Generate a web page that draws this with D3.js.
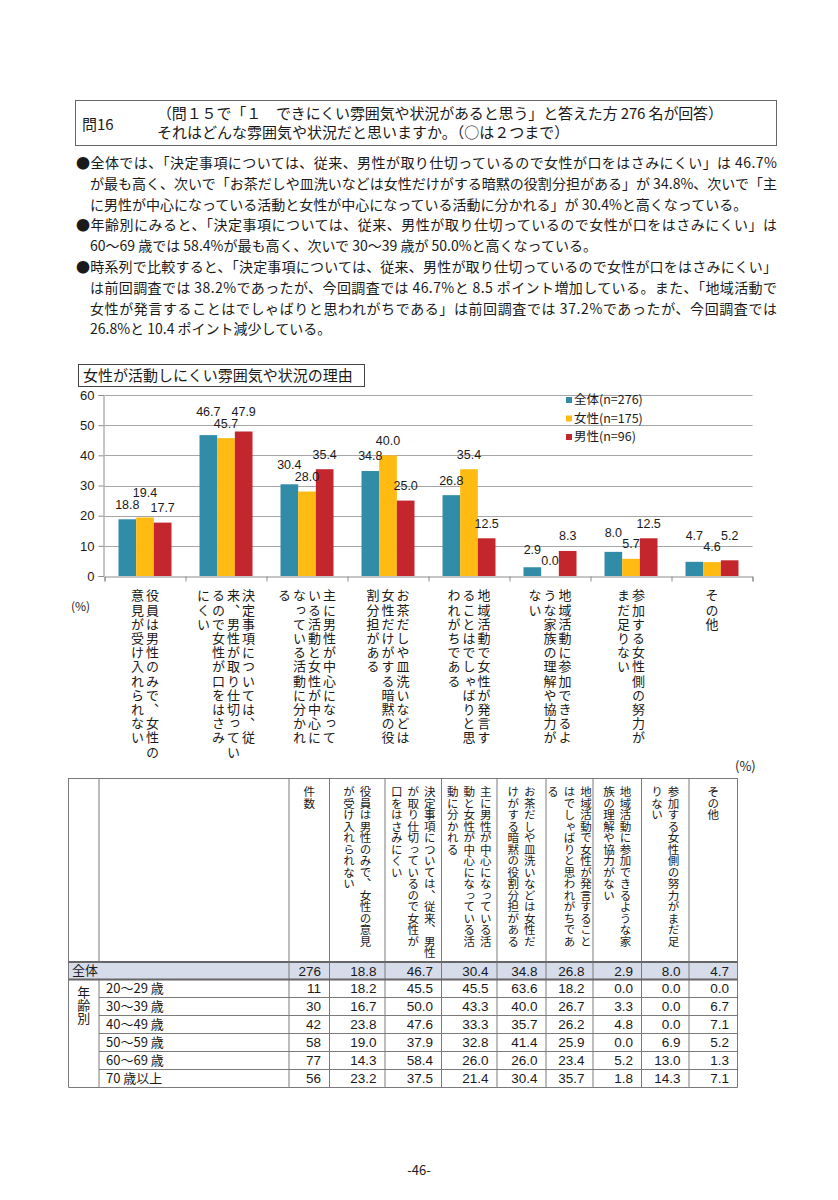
<!DOCTYPE html>
<html>
<head>
<meta charset="utf-8">
<script src="https://cdn.jsdelivr.net/npm/d3@7"></script>
<style>
  body { margin: 0; background: #fff; }
  svg { display: block; }
</style>
</head>
<body>
<div id="page"></div>
<script>
// ---- data ----
const questionNo = "問16";
const questionLines = [
  "（問１５で「１　できにくい雰囲気や状況があると思う」と答えた方 276 名が回答）",
  "それはどんな雰囲気や状況だと思いますか。（○は２つまで）",
];
const summaryLines = [
  { t: "●全体では、「決定事項については、従来、男性が取り仕切っているので女性が口をはさみにくい」は 46.7%", indent: false, full: true },
  { t: "が最も高く、次いで「お茶だしや皿洗いなどは女性だけがする暗黙の役割分担がある」が 34.8%、次いで「主", indent: true, full: true },
  { t: "に男性が中心になっている活動と女性が中心になっている活動に分かれる」が 30.4%と高くなっている。", indent: true, full: false },
  { t: "●年齢別にみると、「決定事項については、従来、男性が取り仕切っているので女性が口をはさみにくい」は", indent: false, full: true },
  { t: "60～69 歳では 58.4%が最も高く、次いで 30～39 歳が 50.0%と高くなっている。", indent: true, full: false },
  { t: "●時系列で比較すると、「決定事項については、従来、男性が取り仕切っているので女性が口をはさみにくい」", indent: false, full: true },
  { t: "は前回調査では 38.2%であったが、今回調査では 46.7%と 8.5 ポイント増加している。また、「地域活動で", indent: true, full: true },
  { t: "女性が発言することはでしゃばりと思われがちである」は前回調査では 37.2%であったが、今回調査では", indent: true, full: true },
  { t: "26.8%と 10.4 ポイント減少している。", indent: true, full: false },
];
const chartTitle = "女性が活動しにくい雰囲気や状況の理由";

const seriesNames = ["全体(n=276)", "女性(n=175)", "男性(n=96)"];
const seriesColors = ["#318ca8", "#ffbb12", "#c4262e"];
const totalValues = [18.8, 46.7, 30.4, 34.8, 26.8, 2.9, 8.0, 4.7];
const femaleValues = [19.4, 45.7, 28.0, 40.0, 35.4, 0.0, 5.7, 4.6];
const maleValues = [17.7, 47.9, 35.4, 25.0, 12.5, 8.3, 12.5, 5.2];
const yTicks = [0, 10, 20, 30, 40, 50, 60];
// each category label is written vertically, one string per column (right to left)
const categoryLabels = [
  ["役員は男性のみで、女性の", "意見が受け入れられない"],
  ["決定事項については、従", "来、男性が取り仕切ってい", "るので女性が口をはさみ", "にくい"],
  ["主に男性が中心になって", "いる活動と女性が中心に", "なっている活動に分かれ", "る"],
  ["お茶だしや皿洗いなどは", "女性だけがする暗黙の役", "割分担がある"],
  ["地域活動で女性が発言す", "ることはでしゃばりと思", "われがちである"],
  ["地域活動に参加できるよ", "うな家族の理解や協力が", "ない"],
  ["参加する女性側の努力が", "まだ足りない"],
  ["その他"],
];

const tableHeaders = [
  ["件数"],
  ["役員は男性のみで、女性の意見", "が受け入れられない"],
  ["決定事項については、従来、男性", "が取り仕切っているので女性が", "口をはさみにくい"],
  ["主に男性が中心になっている活", "動と女性が中心になっている活", "動に分かれる"],
  ["お茶だしや皿洗いなどは女性だ", "けがする暗黙の役割分担がある"],
  ["地域活動で女性が発言すること", "はでしゃばりと思われがちであ", "る"],
  ["地域活動に参加できるような家", "族の理解や協力がない"],
  ["参加する女性側の努力がまだ足", "りない"],
  ["その他"],
];
const groupLabel = "年齢別";
const rowLabels = ["全体", "20～29 歳", "30～39 歳", "40～49 歳", "50～59 歳", "60～69 歳", "70 歳以上"];
const rowCounts = [276, 11, 30, 42, 58, 77, 56];
const rowValues = [
  [18.8, 46.7, 30.4, 34.8, 26.8, 2.9, 8.0, 4.7],
  [18.2, 45.5, 45.5, 63.6, 18.2, 0.0, 0.0, 0.0],
  [16.7, 50.0, 43.3, 40.0, 26.7, 3.3, 0.0, 6.7],
  [23.8, 47.6, 33.3, 35.7, 26.2, 4.8, 0.0, 7.1],
  [19.0, 37.9, 32.8, 41.4, 25.9, 0.0, 6.9, 5.2],
  [14.3, 58.4, 26.0, 26.0, 23.4, 5.2, 13.0, 1.3],
  [23.2, 37.5, 21.4, 30.4, 35.7, 1.8, 14.3, 7.1],
];
const pageNo = "-46-";

// ---- setup ----
const JP = "'Noto Sans CJK JP', 'Noto Sans CJK SC', sans-serif";
const NUM = "'Liberation Sans Narrow', 'Liberation Sans', Arial, sans-serif";
const TXT = "#1a1a1a";
const W = 838, H = 1200;
const fmt = d3.format(".1f");

const svg = d3.select("#page").append("svg")
  .attr("width", W).attr("height", H)
  .attr("viewBox", [0, 0, W, H]);
svg.append("rect").attr("width", W).attr("height", H).attr("fill", "#fff");

// ---- question box ----
const head = svg.append("g").attr("font-family", JP).attr("fill", TXT);
head.append("rect")
  .attr("x", 75.5).attr("y", 100.5).attr("width", 701).attr("height", 45)
  .attr("fill", "none").attr("stroke", "#666");
head.append("text").attr("x", 82).attr("y", 130).attr("font-size", 15).text(questionNo);
head.selectAll(".q")
  .data(questionLines)
  .join("text")
  .attr("class", "q")
  .attr("x", 157)
  .attr("y", (d, i) => 119 + i * 19)
  .attr("font-size", 15)
  .text((d) => d)
  .filter((d, i) => i === 0)
  .attr("textLength", 566)
  .attr("lengthAdjust", "spacing");

// ---- summary text ----
const summary = svg.append("g").attr("font-family", JP).attr("fill", TXT).attr("font-size", 14);
summary.selectAll("text")
  .data(summaryLines)
  .join("text")
  .attr("x", (d) => (d.indent ? 90 : 76))
  .attr("y", (d, i) => 168 + i * 20.8)
  .text((d) => d.t)
  .filter((d) => d.full)
  .attr("textLength", (d) => 777 - (d.indent ? 90 : 76))
  .attr("lengthAdjust", "spacing");

// ---- chart ----
const chart = svg.append("g");
chart.append("rect")
  .attr("x", 78.5).attr("y", 364.5).attr("width", 286).attr("height", 22)
  .attr("fill", "none").attr("stroke", "#444");
chart.append("text")
  .attr("x", 83).attr("y", 381)
  .attr("font-family", JP).attr("font-size", 15).attr("fill", TXT)
  .text(chartTitle);

const plot = { left: 104.5, right: 752.5, top: 395, bottom: 576 };
const series = [totalValues, femaleValues, maleValues];
const x0 = d3.scaleBand().domain(d3.range(categoryLabels.length)).range([plot.left, plot.right]);
const x1 = d3.scaleBand().domain(d3.range(series.length)).range([14, x0.bandwidth() - 14]);
const y = d3.scaleLinear().domain([0, 60]).range([plot.bottom, plot.top]);
const xEdges = d3.scaleLinear().domain([0, categoryLabels.length]).range([plot.left, plot.right]);

// grid
chart.append("g")
  .selectAll("line")
  .data(yTicks.filter((d) => d > 0))
  .join("line")
  .attr("x1", plot.left).attr("x2", plot.right)
  .attr("y1", (d) => Math.round(y(d)) + 0.5).attr("y2", (d) => Math.round(y(d)) + 0.5)
  .attr("stroke", "#a6a6a6");

// y axis
chart.append("g")
  .attr("transform", `translate(${plot.left - 1},0)`)
  .call(d3.axisLeft(y).tickValues(yTicks).tickSize(5).tickPadding(4))
  .call((g) => g.selectAll("path, line").attr("stroke", "#8c8c8c"))
  .call((g) => g.selectAll("text").attr("font-family", NUM).attr("font-size", 13).attr("fill", TXT));

// bars
const rows = d3.range(categoryLabels.length).map((i) => ({
  i,
  items: series.map((s, k) => ({ k, v: s[i] })),
}));
const groups = chart.append("g")
  .selectAll("g")
  .data(rows)
  .join("g")
  .attr("transform", (d) => `translate(${x0(d.i)},0)`);
groups.selectAll("rect")
  .data((d) => d.items)
  .join("rect")
  .attr("x", (d) => x1(d.k))
  .attr("width", x1.bandwidth())
  .attr("y", (d) => y(d.v))
  .attr("height", (d) => y(0) - y(d.v))
  .attr("fill", (d) => seriesColors[d.k]);

// value labels, nudged apart when two neighbours would collide
const labelGap = 4, labelStep = 11.5;
groups.each(function (d) {
  const g = d3.select(this);
  const labels = g.selectAll("text")
    .data(d.items)
    .join("text")
    .attr("x", (e) => x1(e.k) + x1.bandwidth() / 2)
    .attr("text-anchor", "middle")
    .attr("dy", "0.35em")
    .attr("font-family", NUM)
    .attr("font-size", 12.5)
    .attr("fill", TXT)
    .text((e) => fmt(e.v));
  const nodes = labels.nodes();
  d.items.forEach((e, k) => {
    e.cy = y(e.v) - 15;
    e.w = nodes[k].getComputedTextLength();
    e.cx = x1(e.k) + x1.bandwidth() / 2;
  });
  for (let k = 0; k < d.items.length - 1; k++) {
    const a = d.items[k], b = d.items[k + 1];
    const overlapX = a.w / 2 + b.w / 2 + labelGap > b.cx - a.cx;
    if (overlapX && Math.abs(a.cy - b.cy) < labelStep) {
      if (a.cy < b.cy) a.cy = b.cy - labelStep;
      else b.cy = a.cy - labelStep;
    }
  }
  labels.attr("y", (e) => e.cy);
});

// x axis
chart.append("g")
  .attr("transform", `translate(0,${plot.bottom + 0.5})`)
  .call(d3.axisBottom(xEdges).ticks(categoryLabels.length).tickSize(5).tickFormat(""))
  .call((g) => g.selectAll("path, line").attr("stroke", "#8c8c8c"));

// vertical category labels
const colGap = 15;
chart.append("g")
  .selectAll("g")
  .data(categoryLabels)
  .join("g")
  .each(function (cols, i) {
    const cx = x0(i) + x0.bandwidth() / 2;
    d3.select(this).selectAll("text")
      .data(cols)
      .join("text")
      .attr("x", (c, k) => cx + ((cols.length - 1) / 2 - k) * colGap)
      .attr("y", 589)
      .attr("writing-mode", "vertical-rl")
      .attr("font-family", JP)
      .attr("font-size", 13)
      .attr("letter-spacing", 1.2)
      .attr("fill", TXT)
      .text((c) => c);
  });
chart.append("text")
  .attr("x", 71).attr("y", 611)
  .attr("font-family", JP).attr("font-size", 12).attr("fill", TXT)
  .text("(%)");

// legend
const legend = chart.append("g")
  .selectAll("g")
  .data(seriesNames)
  .join("g")
  .attr("transform", (d, i) => `translate(566,${400 + i * 18.5})`);
legend.append("rect")
  .attr("y", -3).attr("width", 6).attr("height", 6)
  .attr("fill", (d, i) => seriesColors[i]);
legend.append("text")
  .attr("x", 8).attr("dy", "0.35em")
  .attr("font-family", JP).attr("font-size", 12.5).attr("fill", TXT)
  .text((d) => d);

// ---- table ----
const colEdges = [68.5, 99, 289, 329.5, 385, 441.5, 497, 546, 593, 641.5, 689, 737.5];
const tTop = 778, tHead = 962, rowH = 18;
const rowEdges = [tHead, tHead + 17.5].concat(d3.range(1, rowLabels.length).map((r) => tHead + 17.5 + r * rowH));
const tBottom = rowEdges[rowEdges.length - 1];
const LINE = "#7a7a7a";
const table = svg.append("g");

table.append("rect")
  .attr("x", colEdges[0]).attr("y", rowEdges[0])
  .attr("width", colEdges[colEdges.length - 1] - colEdges[0]).attr("height", rowEdges[1] - rowEdges[0])
  .attr("fill", "#d6dcea");

// vertical lines
table.selectAll(".vl")
  .data(colEdges)
  .join("line")
  .attr("class", "vl")
  .attr("x1", (d) => d).attr("x2", (d) => d)
  .attr("y1", tTop).attr("y2", tBottom)
  .attr("stroke", LINE);
table.append("rect")
  .attr("x", colEdges[1] - 1).attr("y", rowEdges[0] + 1).attr("width", 2).attr("height", rowEdges[1] - rowEdges[0] - 2)
  .attr("fill", "#d6dcea");

// horizontal lines
table.append("line")
  .attr("x1", colEdges[0]).attr("x2", colEdges[colEdges.length - 1])
  .attr("y1", tTop + 0.5).attr("y2", tTop + 0.5).attr("stroke", LINE);
table.selectAll(".hl")
  .data(rowEdges)
  .join("line")
  .attr("class", "hl")
  .attr("x1", (d, i) => (i <= 1 || i === rowEdges.length - 1 ? colEdges[0] : colEdges[1]))
  .attr("x2", colEdges[colEdges.length - 1])
  .attr("y1", (d) => d).attr("y2", (d) => d)
  .attr("stroke", (d, i) => (i <= 1 ? "#666" : LINE))
  .attr("stroke-width", (d, i) => (i <= 1 ? 2 : 1));

// header (vertical text)
const hGap = 16.5;
table.selectAll(".hd")
  .data(tableHeaders)
  .join("g")
  .attr("class", "hd")
  .each(function (cols, j) {
    const cx = (colEdges[j + 2] + colEdges[j + 3]) / 2;
    d3.select(this).selectAll("text")
      .data(cols)
      .join("text")
      .attr("x", (c, k) => cx + ((cols.length - 1) / 2 - k) * hGap)
      .attr("y", 786)
      .attr("writing-mode", "vertical-rl")
      .attr("font-family", JP)
      .attr("font-size", 11.5)
      .attr("fill", TXT)
      .text((c) => c);
  });

// row labels and values
const body = table.selectAll(".row")
  .data(rowLabels.map((label, r) => ({ label, r, count: rowCounts[r], values: rowValues[r] })))
  .join("g")
  .attr("class", "row")
  .attr("transform", (d) => `translate(0,${(rowEdges[d.r] + rowEdges[d.r + 1]) / 2})`);
body.append("text")
  .attr("x", (d) => (d.r === 0 ? 72 : 106))
  .attr("dy", "0.36em")
  .attr("font-family", JP).attr("font-size", 13).attr("fill", TXT)
  .text((d) => d.label);
body.selectAll(".v")
  .data((d) => [String(d.count)].concat(d.values.map(fmt)))
  .join("text")
  .attr("class", "v")
  .attr("x", (d, j) => colEdges[j + 3] - 8.5)
  .attr("dy", "0.36em")
  .attr("text-anchor", "end")
  .attr("font-family", NUM).attr("font-size", 13.5).attr("fill", TXT)
  .text((d) => d);
table.append("text")
  .attr("x", (colEdges[0] + colEdges[1]) / 2).attr("y", rowEdges[1] + 6)
  .attr("writing-mode", "vertical-rl")
  .attr("font-family", JP).attr("font-size", 13).attr("fill", TXT)
  .text(groupLabel);
table.append("text")
  .attr("x", 735).attr("y", 771)
  .attr("font-family", JP).attr("font-size", 13).attr("fill", TXT)
  .text("(%)");

// page number
svg.append("text")
  .attr("x", W / 2).attr("y", 1175)
  .attr("text-anchor", "middle")
  .attr("font-family", JP).attr("font-size", 13).attr("fill", TXT)
  .text(pageNo);
</script>
</body>
</html>
